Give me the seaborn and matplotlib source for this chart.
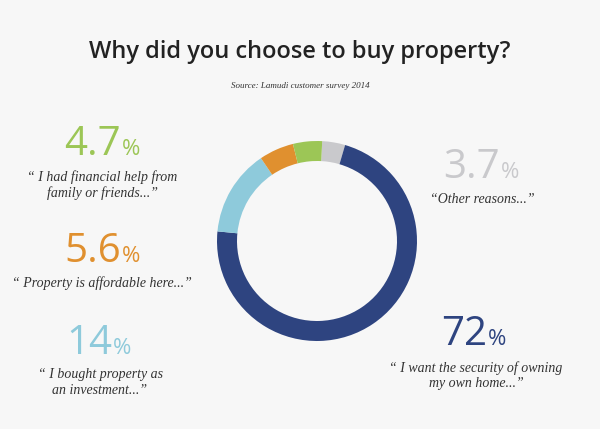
import matplotlib
matplotlib.use("Agg")
import matplotlib.pyplot as plt
import seaborn as sns

# ---- data ----
categories = ["Other reasons", "Security of owning home", "Investment",
              "Affordable", "Financial help"]
values = [3.7, 72, 14, 5.6, 4.7]
value_labels = ["3.7", "72", "14", "5.6", "4.7"]
quotes = ["\u201cOther reasons...\u201d",
          "\u201c I want the security of owning\nmy own home...\u201d",
          "\u201c I bought property as\nan investment...\u201d",
          "\u201c Property is affordable here...\u201d",
          "\u201c I had financial help from\nfamily or friends...\u201d"]
colors = ["#c9c9cc", "#2e4480", "#8ecadb", "#e0902f", "#9cc656"]
title = "Why did you choose to buy property?"
source = "Source: Lamudi customer survey 2014"

sns.set_theme(style="white")
plt.rcParams['font.family'] = ['Open Sans', 'DejaVu Sans']

W, H = 600, 429
BG = "#f7f7f7"
fig = plt.figure(figsize=(W / 100, H / 100), dpi=100, facecolor=BG)

def P(x, y):
    return x / W, 1 - y / H

# donut
cx, cy, r = 317, 241, 100
ax = fig.add_axes([(cx - r) / W, (H - cy - r) / H, 2 * r / W, 2 * r / H])
ax.set_facecolor(BG)
ax.pie(values, colors=colors, startangle=87, counterclock=False,
       wedgeprops=dict(width=0.2, linewidth=0), radius=1)
ax.set_xlim(-1, 1)
ax.set_ylim(-1, 1)
ax.set_aspect("equal")
ax.axis("off")

# title and source
fig.text(*P(300, 58), title, ha="center", va="baseline", fontsize=17,
         color="#222222", fontweight="semibold",
         family=['Open Sans', 'DejaVu Sans'])
fig.text(*P(300, 86), source, ha="center", va="center", fontsize=6.5,
         style="italic", color="#333333", family=['Liberation Serif', 'DejaVu Serif'])

# labels: (split x, baseline y of number, quote center x, quote first line y)
layout = [
    (500, 178, 482, 200),   # other
    (487, 345, 476, 368),   # 72
    (112, 354, 100, 375),   # 14
    (121, 262, 102, 283),   # 5.6
    (121, 155, 102, 177),   # 4.7
]
for val, q, col, (sx, by, qx, qy) in zip(value_labels, quotes, colors, layout):
    fig.text(*P(sx, by), val, ha="right", va="baseline", fontsize=29,
             color=col, fontweight="normal")
    fig.text(*P(sx + 1, by), "%", ha="left", va="baseline", fontsize=16,
             color=col, fontweight="normal")
    fig.text(*P(qx, qy - 7), q, ha="center", va="top", fontsize=10,
             style="italic", color="#333333", linespacing=1.25,
             family=['Liberation Serif', 'DejaVu Serif'])

fig.savefig("out.png", dpi=100, facecolor=BG)
